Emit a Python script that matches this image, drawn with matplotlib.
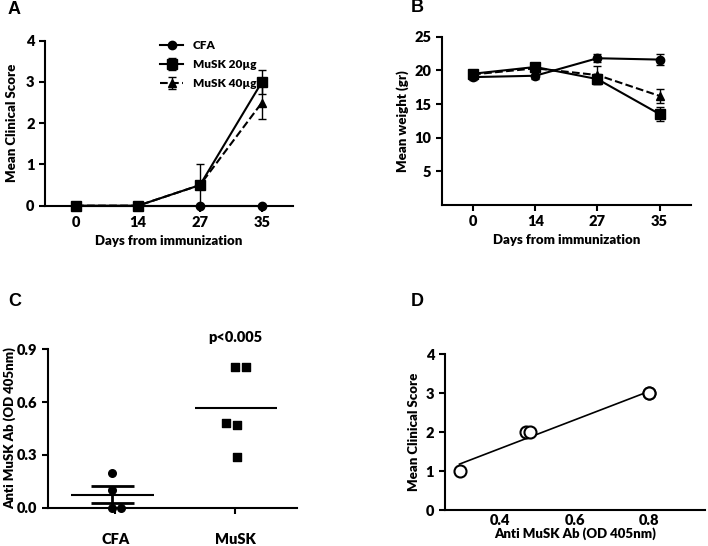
import numpy as np
import matplotlib.pyplot as plt

plt.rcParams['font.family'] = ['Lato', 'DejaVu Sans']
plt.rcParams['font.weight'] = 'heavy'
plt.rcParams['axes.labelweight'] = 'heavy'

# data
days = ['0', '14', '27', '35']

score_cfa = [0, 0, 0, 0]
score_20 = [0, 0, 0.5, 3.0]
score_20_err = [0, 0, 0.5, 0.3]
score_40 = [0, 0, 0.5, 2.5]
score_40_err = [0, 0, 0, 0.4]

weight_cfa = [19.0, 19.2, 21.8, 21.6]
weight_cfa_err = [0.4, 0.5, 0.6, 0.8]
weight_20 = [19.5, 20.5, 18.7, 13.5]
weight_20_err = [0.3, 0.5, 0.8, 1.0]
weight_40 = [19.4, 20.3, 19.3, 16.2]
weight_40_err = [0.3, 0.3, 1.3, 1.0]

groups = ['CFA', 'MuSK']
ab_cfa = [0.2, 0.1, 0.0, 0.0]
ab_musk = [0.8, 0.8, 0.48, 0.47, 0.29]
# horizontal scatter of the dots
jit_cfa = [-0.03, -0.03, -0.03, 0.05]
jit_musk = [0.0, 0.09, -0.08, 0.01, 0.01]

corr_ab = [0.29, 0.47, 0.48, 0.8, 0.8]
corr_score = [1, 2, 2, 3, 3]

FS = 9.5
TS = 10.5
W = 'heavy'

fig = plt.figure(figsize=(7.08, 5.46), dpi=100)

def style(ax):
    ax.spines['top'].set_visible(False)
    ax.spines['right'].set_visible(False)
    for s in ['left', 'bottom']:
        ax.spines[s].set_linewidth(1.5)
    ax.tick_params(width=1.5, length=4, labelsize=TS)
    for lab in ax.get_xticklabels() + ax.get_yticklabels():
        lab.set_fontweight(W)

x = np.arange(len(days))

# panel A
axA = fig.add_axes([0.0636, 0.6233, 0.3502, 0.3022])
axA.plot(x, score_cfa, 'k-', marker='o', ms=6, lw=1.5, label='CFA', clip_on=False, zorder=4)
axA.errorbar(x, score_20, yerr=score_20_err, color='k', marker='s', ms=7, lw=1.5,
             capsize=3, elinewidth=1, label='MuSK 20\u00b5g', clip_on=False)
axA.errorbar(x, score_40, yerr=score_40_err, color='k', ls='--', marker='^', ms=6, lw=1.5,
             capsize=3, elinewidth=1, label='MuSK 40\u00b5g', clip_on=False)
axA.set_xlim(-0.5, 3.5)
axA.set_ylim(0, 4)
axA.set_xticks(x)
axA.set_xticklabels(days)
axA.set_yticks([0, 1, 2, 3, 4])
axA.set_xlabel('Days from immunization', fontsize=FS)
axA.set_ylabel('Mean Clinical Score', fontsize=FS, labelpad=6)
axA.legend(loc='upper left', bbox_to_anchor=(0.42, 1.07), frameon=False,
           prop={'size': 8.5, 'weight': W}, handlelength=2.0, labelspacing=0.7)
style(axA)

# panel B
axB = fig.add_axes([0.6243, 0.6245, 0.3513, 0.3083])
axB.errorbar(x, weight_cfa, yerr=weight_cfa_err, color='k', marker='o', ms=6, lw=1.5,
             capsize=3, elinewidth=1)
axB.errorbar(x, weight_20, yerr=weight_20_err, color='k', marker='s', ms=7, lw=1.5,
             capsize=3, elinewidth=1)
axB.errorbar(x, weight_40, yerr=weight_40_err, color='k', ls='--', marker='^', ms=6, lw=1.5,
             capsize=3, elinewidth=1)
axB.set_xlim(-0.5, 3.5)
axB.set_ylim(0, 25)
axB.set_xticks(x)
axB.set_xticklabels(days)
axB.set_yticks([5, 10, 15, 20, 25])
axB.set_xlabel('Days from immunization', fontsize=FS)
axB.set_ylabel('Mean weight (gr)', fontsize=FS)
style(axB)

# panel C
axC = fig.add_axes([0.0678, 0.0701, 0.3512, 0.2902])
axC.scatter(np.array(jit_cfa), ab_cfa, color='k', marker='o', s=30, clip_on=False, zorder=3)
axC.scatter(1 + np.array(jit_musk), ab_musk, color='k', marker='s', s=30, clip_on=False, zorder=3)
m_cfa = np.mean(ab_cfa)
sem_cfa = np.std(ab_cfa, ddof=1) / np.sqrt(len(ab_cfa))
m_musk = np.mean(ab_musk)
axC.hlines(m_cfa, -0.37, 0.32, color='k', lw=1.5)
axC.hlines([m_cfa - sem_cfa, m_cfa + sem_cfa], -0.2, 0.16, color='k', lw=2)
axC.vlines(-0.03, m_cfa - sem_cfa, m_cfa + sem_cfa, color='k', lw=2)
axC.hlines(m_musk, 0.66, 1.35, color='k', lw=1.5)
axC.text(1.0, 0.93, 'p<0.005', ha='center', va='bottom', fontsize=TS, fontweight=W)
axC.set_xlim(-0.56, 1.51)
axC.set_ylim(0, 0.9)
axC.set_xticks([0, 1])
axC.set_xticklabels(groups)
axC.tick_params(axis='x', pad=14)
axC.set_yticks([0.0, 0.3, 0.6, 0.9])
axC.set_yticklabels(['0.0', '0.3', '0.6', '0.9'])
axC.set_ylabel('Anti MuSK Ab (OD 405nm)', fontsize=FS, labelpad=1)
style(axC)

# panel D
axD = fig.add_axes([0.628, 0.0659, 0.3678, 0.2851])
slope, icpt = np.polyfit(corr_ab, corr_score, 1)
xf = np.array([min(corr_ab), max(corr_ab)])
axD.plot(xf, slope * xf + icpt, 'k-', lw=1.2)
axD.scatter(corr_ab, corr_score, s=75, facecolors='white', edgecolors='k', linewidths=1.5, zorder=3)
axD.set_xlim(0.25, 0.95)
axD.set_ylim(0, 4)
axD.set_xticks([0.4, 0.6, 0.8])
axD.set_yticks([0, 1, 2, 3, 4])
axD.set_xlabel('Anti MuSK Ab (OD 405nm)', fontsize=FS, labelpad=0)
axD.set_ylabel('Mean Clinical Score', fontsize=FS)
style(axD)
axD.tick_params(axis='x', length=0, pad=3)

for lab, px, py in [('A', 8, 10), ('B', 411, 8), ('C', 8, 302), ('D', 411, 302)]:
    fig.text(px / 708, 1 - py / 546, lab, fontsize=13, fontweight='bold',
             family='Liberation Sans', ha='left', va='center')

fig.savefig('out.png', dpi=100)
